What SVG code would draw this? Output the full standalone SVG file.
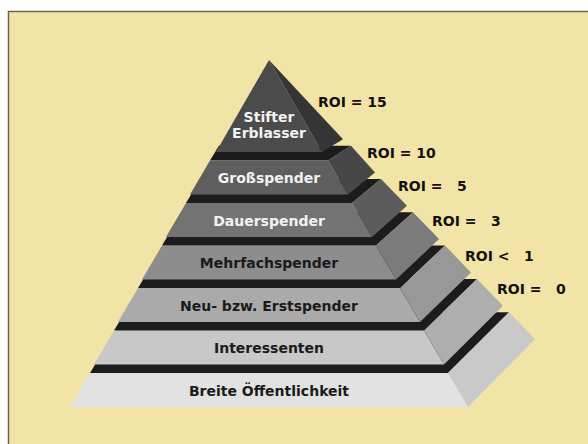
<svg xmlns="http://www.w3.org/2000/svg" width="588" height="444" viewBox="0 0 588 444">
<style>
.lbl{font-family:"DejaVu Sans","Liberation Sans",sans-serif;font-weight:bold;font-size:14px;text-anchor:middle}
.w{fill:#f2f2f2}
.k{fill:#1a1a1a}
.roi{font-family:"DejaVu Sans","Liberation Sans",sans-serif;font-weight:bold;font-size:14px;fill:#111;white-space:pre}
.top{fill:#1c1c1c}
</style>
<rect x="8.5" y="11.5" width="600" height="450" fill="#F2E4A6" stroke="#6b6350" stroke-width="1.5"/>
<g id="layer-breite">
<polygon class="top" points="90,373 448,373 509,312.2 126.5,312.2"/>
<polygon points="90,373 448,373 468,407 70,407" fill="#e2e2e2"/>
<polygon points="448,373 509,312.2 535,339 468,407" fill="#c9c9c9"/>
<text class="lbl k" x="269" y="396">Breite Öffentlichkeit</text>
</g>
<g id="layer-interessenten">
<polygon class="top" points="114,330.5 424,330.5 477,278.9 145,278.9"/>
<polygon points="114,330.5 424,330.5 444,364.5 94,364.5" fill="#c8c8c8"/>
<polygon points="424,330.5 477,278.9 503,305.7 444,364.5" fill="#aeaeae"/>
<text class="lbl k" x="269" y="353">Interessenten</text>
</g>
<g id="layer-neu">
<polygon class="top" points="138,288 400,288 445,245.6 163.4,245.6"/>
<polygon points="138,288 400,288 420,322 118,322" fill="#aaaaaa"/>
<polygon points="400,288 445,245.6 471,272.4 420,322" fill="#989898"/>
<text class="lbl k" x="269" y="311">Neu- bzw. Erstspender</text>
</g>
<g id="layer-mehrfach">
<polygon class="top" points="162,245.5 376,245.5 413,212.3 182,212.3"/>
<polygon points="162,245.5 376,245.5 396,279.5 142,279.5" fill="#8d8d8d"/>
<polygon points="376,245.5 413,212.3 439,239.1 396,279.5" fill="#7b7b7b"/>
<text class="lbl k" x="269" y="268">Mehrfachspender</text>
</g>
<g id="layer-dauer">
<polygon class="top" points="186,203 352,203 381,179 200.4,179"/>
<polygon points="186,203 352,203 372,237 166,237" fill="#737373"/>
<polygon points="352,203 381,179 407,205.8 372,237" fill="#5c5c5c"/>
<text class="lbl w" x="269" y="226">Dauerspender</text>
</g>
<g id="layer-gross">
<polygon class="top" points="210,160.5 328,160.5 351,145.7 218.9,145.7"/>
<polygon points="210,160.5 328,160.5 348,194.5 190,194.5" fill="#5e5e5e"/>
<polygon points="328,160.5 351,145.7 375,172.5 348,194.5" fill="#474747"/>
<text class="lbl w" x="269" y="183">Großspender</text>
</g>
<g id="layer-stifter">
<polygon points="269,60 322,152 216,152" fill="#4b4b4b"/>
<polygon points="269,60 343,139.2 322,152" fill="#353535"/>
<text class="lbl w" x="269" y="122">Stifter</text>
<text class="lbl w" x="269" y="138">Erblasser</text>
</g>
<g id="roi-labels">
<text class="roi" xml:space="preserve" x="318" y="107">ROI = 15</text>
<text class="roi" xml:space="preserve" x="367" y="158">ROI = 10</text>
<text class="roi" xml:space="preserve" x="398" y="191">ROI =   5</text>
<text class="roi" xml:space="preserve" x="432" y="226">ROI =   3</text>
<text class="roi" xml:space="preserve" x="465" y="261">ROI &lt;   1</text>
<text class="roi" xml:space="preserve" x="497" y="294">ROI =   0</text>
</g>
<g id="connectors"/>
</svg>
